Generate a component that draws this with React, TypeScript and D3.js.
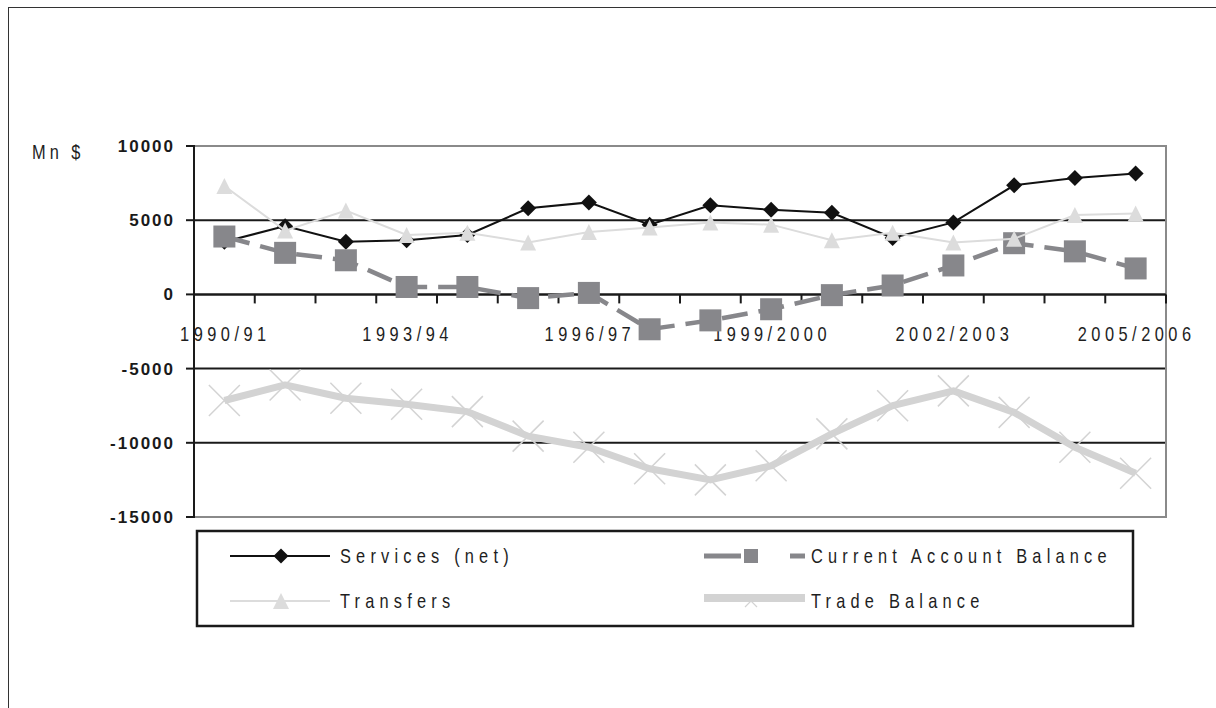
import React from "react";
import * as d3 from "d3";

const categories = [
  "1990/91", "1991/92", "1992/93", "1993/94", "1994/95", "1995/96", "1996/97", "1997/98",
  "1998/99", "1999/2000", "2000/2001", "2001/2002", "2002/2003", "2003/2004", "2004/2005", "2005/2006",
];
const shownLabels = ["1990/91", "1993/94", "1996/97", "1999/2000", "2002/2003", "2005/2006"];
const services = [3550, 4600, 3550, 3650, 4000, 5800, 6200, 4700, 6000, 5700, 5500, 3800, 4850, 7350, 7850, 8150];
const transfers = [7300, 4300, 5650, 4000, 4150, 3500, 4200, 4500, 4850, 4700, 3650, 4150, 3500, 3750, 5350, 5450];
const currentAccount = [3900, 2800, 2300, 500, 500, -250, 100, -2350, -1750, -1000, -50, 600, 1950, 3450, 2900, 1750];
const tradeBalance = [-7150, -6100, -7000, -7400, -7900, -9550, -10300, -11750, -12500, -11550, -9400, -7500, -6500, -7950, -10300, -12050];
const yTicks = [10000, 5000, 0, -5000, -10000, -15000];

const SANS = "'Liberation Sans', Arial, sans-serif";
const SX = 0.82;

function NText(props: { x: number; y: number; ls: number; size?: number; anchor?: string; children: React.ReactNode }) {
  const { x, y, ls, size = 20, anchor = "start", children } = props;
  return (
    <text
      transform={`translate(${x},${y}) scale(${SX},1)`}
      fontFamily={SANS}
      fontSize={size}
      letterSpacing={ls / SX}
      textAnchor={anchor}
      fill="#1e1e1e"
    >
      {children}
    </text>
  );
}

export default function App() {
  const left = 194, right = 1166, top = 146, bottom = 517;
  const x = d3.scaleBand<string>().domain(categories).range([left, right]).padding(0);
  const cx = (i: number) => (x(categories[i]) as number) + x.bandwidth() / 2;
  const y = d3.scaleLinear().domain([-15000, 10000]).range([bottom, top]);
  const line = d3.line<number>().x((_, i) => cx(i)).y((v) => y(v));

  const diamond = (px: number, py: number, r: number) =>
    `M${px},${py - r}L${px + r},${py}L${px},${py + r}L${px - r},${py}Z`;
  const triangle = (px: number, py: number, w: number, h: number) =>
    `M${px},${py - h / 2}L${px + w / 2},${py + h / 2}L${px - w / 2},${py + h / 2}Z`;
  const cross = (px: number, py: number, r: number) =>
    `M${px - r},${py - r}L${px + r},${py + r}M${px - r},${py + r}L${px + r},${py - r}`;

  const grayTri = "#dcdcdc";
  const sq = "#87878b";
  const trade = "#d3d3d3";

  const row1 = 556, row2 = 601;

  return (
    <svg width={1216} height={708} style={{ position: "absolute", left: 0, top: 0 }}>
      <rect x={0} y={0} width={1216} height={708} fill="#fff" />
      {/* outer frame */}
      <rect x={8.5} y={7.5} width={1400} height={900} fill="none" stroke="#333" strokeWidth={1} />

      <NText x={32} y={159} ls={4}>Mn $</NText>

      {/* gridlines */}
      {yTicks.filter((t) => t !== 10000 && t !== -15000).map((t) => (
        <line key={t} x1={left} x2={right} y1={y(t)} y2={y(t)} stroke="#1a1a1a" strokeWidth={2} />
      ))}
      {/* plot border */}
      <polyline points={`${left},${top} ${right},${top} ${right},${bottom} ${left},${bottom}`} fill="none" stroke="#8a8a8a" strokeWidth={2} />

      {/* y tick labels and ticks */}
      {yTicks.map((t) => (
        <g key={"yt" + t}>
          <line x1={186} x2={left} y1={y(t)} y2={y(t)} stroke="#1a1a1a" strokeWidth={2} />
          <text x={175} y={y(t) + 6} textAnchor="end" fontFamily={SANS} fontWeight="bold" fontSize={17} letterSpacing={2} fill="#1a1a1a">{t}</text>
        </g>
      ))}

      {/* x labels */}
      {categories.map((c, i) =>
        shownLabels.includes(c) ? (
          <NText key={"xl" + c} x={cx(i) + 1} y={341} ls={4.5} anchor="middle">{c}</NText>
        ) : null
      )}

      {/* zero axis with ticks */}
      {categories.map((c) => (
        <line key={"xt" + c} x1={(x(c) as number) + x.bandwidth()} x2={(x(c) as number) + x.bandwidth()} y1={y(0)} y2={y(0) + 9} stroke="#1a1a1a" strokeWidth={2} />
      ))}
      <line x1={left} x2={right} y1={y(0)} y2={y(0)} stroke="#1a1a1a" strokeWidth={2} />
      <line x1={left} x2={left} y1={top - 1} y2={bottom + 1} stroke="#1a1a1a" strokeWidth={2} />

      {/* Services */}
      <path d={line(services) as string} fill="none" stroke="#111" strokeWidth={2} />
      {services.map((v, i) => <path key={"s" + i} d={diamond(cx(i), y(v), 8)} fill="#111" />)}

      {/* Current account */}
      <path d={line(currentAccount) as string} fill="none" stroke={sq} strokeWidth={4.5} strokeDasharray="26 11" />
      {currentAccount.map((v, i) => <rect key={"c" + i} x={cx(i) - 11} y={y(v) - 11} width={22} height={22} fill={sq} />)}

      {/* Transfers */}
      <path d={line(transfers) as string} fill="none" stroke={grayTri} strokeWidth={2} />
      {transfers.map((v, i) => <path key={"t" + i} d={triangle(cx(i), y(v), 16, 16)} fill={grayTri} />)}

      {/* Trade */}
      <path d={line(tradeBalance) as string} fill="none" stroke={trade} strokeWidth={7} strokeLinejoin="round" />
      {tradeBalance.map((v, i) => <path key={"tb" + i} d={cross(cx(i), y(v), 15.5)} stroke={trade} strokeWidth={1.5} fill="none" />)}

      {/* legend */}
      <rect x={197} y={531} width={936} height={95} fill="none" stroke="#1a1a1a" strokeWidth={2.5} />
      <line x1={230} x2={330} y1={row1} y2={row1} stroke="#111" strokeWidth={2} />
      <path d={diamond(281, row1, 7.5)} fill="#111" />
      <NText x={340} y={row1 + 7} ls={5.2}>Services (net)</NText>

      <line x1={230} x2={330} y1={row2} y2={row2} stroke={grayTri} strokeWidth={2} />
      <path d={triangle(281, row2, 16, 16)} fill={grayTri} />
      <NText x={340} y={row2 + 7} ls={5.2}>Transfers</NText>

      <line x1={704} x2={805} y1={row1} y2={row1} stroke={sq} strokeWidth={5} strokeDasharray="37 49 16 100" />
      <rect x={744} y={row1 - 7} width={14} height={14} fill={sq} />
      <NText x={811} y={row1 + 7} ls={5.2}>Current Account Balance</NText>

      <line x1={704} x2={805} y1={row2 - 3} y2={row2 - 3} stroke={trade} strokeWidth={8} />
      <path d={cross(751, row2, 6)} stroke={trade} strokeWidth={1.2} fill="none" />
      <NText x={811} y={row2 + 7} ls={5.2}>Trade Balance</NText>
    </svg>
  );
}
